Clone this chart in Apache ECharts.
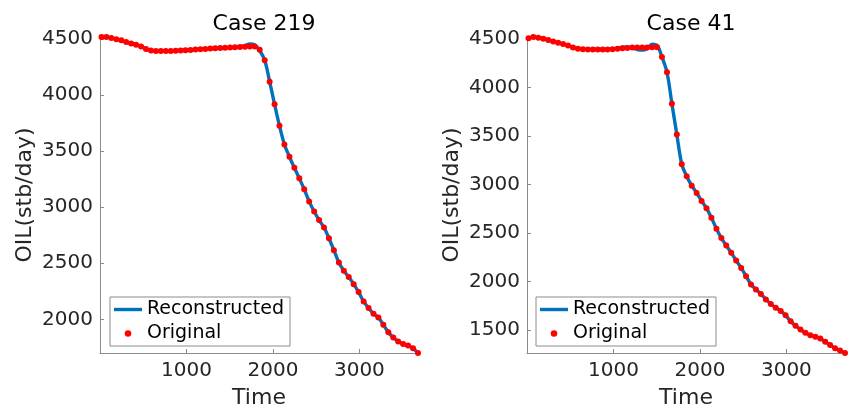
<!DOCTYPE html>
<html>
<head>
<meta charset="utf-8">
<script src="https://cdn.jsdelivr.net/npm/echarts@6/dist/echarts.min.js"></script>
<style>
html,body{margin:0;padding:0;background:#fff;}
#c{width:849px;height:414px;}
</style>
</head>
<body>
<div id="c"></div>
<script>
// Time (days) for each sample
var times = [17,74,131,189,246,303,360,417,475,532,589,646,703,761,818,875,932,989,1047,1104,1161,1218,1275,1333,1390,1447,1504,1561,1619,1676,1733,1790,1847,1905,1962,2019,2076,2133,2191,2248,2305,2362,2419,2477,2534,2591,2648,2705,2763,2820,2877,2934,2991,3049,3106,3163,3220,3277,3335,3392,3449,3506,3563,3621,3678];

// Case 219
var case219Original = [4518,4518,4509,4497,4488,4473,4461,4449,4434,4411,4397,4394,4393,4393,4394,4396,4398,4400,4403,4406,4409,4412,4415,4418,4420,4422,4424,4426,4428,4430,4433,4434,4404,4310,4120,3918,3726,3560,3450,3352,3258,3160,3052,2962,2886,2820,2723,2617,2507,2433,2377,2314,2243,2160,2101,2050,2016,1952,1884,1838,1803,1780,1766,1742,1700];
var case219Recon = [4518,4518,4509,4497,4488,4473,4461,4449,4434,4411,4397,4394,4393,4393,4394,4396,4398,4400,4403,4406,4409,4412,4415,4418,4420,4422,4424,4426,4431,4442,4456,4448,4398,4310,4120,3918,3726,3560,3450,3352,3258,3160,3052,2962,2886,2820,2723,2617,2507,2433,2377,2314,2243,2160,2101,2050,2016,1952,1884,1838,1803,1780,1766,1742,1700];

// Case 41
var case41Original = [4505,4518,4510,4500,4486,4472,4459,4445,4431,4411,4398,4391,4390,4389,4389,4389,4390,4391,4396,4401,4406,4409,4410,4411,4411,4413,4412,4312,4155,3831,3514,3208,3085,2987,2913,2831,2756,2658,2545,2448,2371,2298,2216,2141,2056,1970,1919,1872,1817,1770,1732,1698,1653,1592,1545,1507,1473,1449,1433,1415,1381,1347,1313,1290,1265];
var case41Recon = [4505,4518,4510,4500,4486,4472,4459,4445,4431,4411,4398,4391,4390,4389,4389,4389,4390,4392,4400,4414,4416,4404,4389,4384,4398,4443,4432,4312,4155,3831,3514,3208,3085,2987,2913,2831,2756,2658,2545,2448,2371,2298,2216,2141,2056,1970,1919,1872,1817,1770,1732,1698,1653,1592,1545,1507,1473,1449,1433,1415,1381,1347,1313,1290,1265];

var titles = ['Case 219', 'Case 41'];
var xTicks = [1000, 2000, 3000];
var yTicks219 = [2000, 2500, 3000, 3500, 4000, 4500];
var yTicks41 = [1500, 2000, 2500, 3000, 3500, 4000, 4500];
var seriesNames = ['Reconstructed', 'Original'];

function pairs(xs, ys){ return xs.map(function(x,i){ return [x, ys[i]]; }); }

var FONT = 'DejaVu Sans';
var AXC = '#262626';
var LINEC = '#8c8c8c';

function xAxis(idx){
  return {
    type:'value', gridIndex: idx, min: 0, max: times[times.length-1],
    name:'Time', nameLocation:'middle', nameGap: 34,
    nameTextStyle:{fontFamily:FONT, fontSize:22, color:AXC},
    axisLine:{lineStyle:{color:LINEC, width:1}},
    axisTick:{inside:true, length:4, customValues: xTicks, lineStyle:{color:LINEC}},
    axisLabel:{customValues: xTicks, margin:8, fontFamily:FONT, fontSize:20, color:AXC, formatter:function(v){return String(v);}},
    splitLine:{show:false}
  };
}
function yAxis(idx, vals, ticks){
  var all = vals[0].concat(vals[1]);
  return {
    type:'value', gridIndex: idx,
    min: Math.min.apply(null, all), max: Math.max.apply(null, all),
    name:'OIL(stb/day)', nameLocation:'middle', nameGap: 64,
    nameTextStyle:{fontFamily:FONT, fontSize:22, color:AXC},
    axisLine:{show:true, lineStyle:{color:LINEC, width:1}},
    axisTick:{show:true, inside:true, length:4, customValues: ticks, lineStyle:{color:LINEC}},
    axisLabel:{customValues: ticks, margin:7, fontFamily:FONT, fontSize:20, color:AXC, formatter:function(v){return String(v);}},
    splitLine:{show:false}
  };
}

function legend(left){
  return {
    left: left, top: 297, orient:'vertical',
    backgroundColor:'#fff', borderColor:'#8c8c8c', borderWidth:1,
    padding:[3,6,3,4], itemGap:5, itemWidth:28, itemHeight:6.5,
    symbolKeepAspect:true,
    textStyle:{fontFamily:FONT, fontSize:19, color:'#000'},
    data:[
      {name:seriesNames[0], icon:'path://M0,0H28V3.4H0Z', itemStyle:{color:'#0072BD'}},
      {name:seriesNames[1], icon:'circle', itemStyle:{color:'#FF0000'}}
    ],
    selectedMode:false
  };
}

var option = {
  animation:false,
  backgroundColor:'#fff',
  title: [
    {text: titles[0], left: 259, top: 8, textAlign:'center', textStyle:{fontFamily:FONT, fontSize:22, fontWeight:'normal', color:'#000'}},
    {text: titles[1], left: 686, top: 8, textAlign:'center', textStyle:{fontFamily:FONT, fontSize:22, fontWeight:'normal', color:'#000'}}
  ],
  grid: [
    {left:100, right:431, top:37, bottom:60},
    {left:527, right:4, top:37, bottom:60}
  ],
  xAxis: [xAxis(0), xAxis(1)],
  yAxis: [yAxis(0, [case219Original, case219Recon], yTicks219), yAxis(1, [case41Original, case41Recon], yTicks41)],
  legend: [legend(110), legend(536)],
  series: [
    {name:seriesNames[0], type:'line', xAxisIndex:0, yAxisIndex:0, data: pairs(times, case219Recon), showSymbol:false, symbol:'none', smooth:0.35, lineStyle:{color:'#0072BD', width:3.4}, itemStyle:{color:'#0072BD'}, z:2},
    {name:seriesNames[1], type:'scatter', xAxisIndex:0, yAxisIndex:0, data: pairs(times, case219Original), symbol:'circle', symbolSize:6, itemStyle:{color:'#FF0000', opacity:1}, z:3},
    {name:seriesNames[0], type:'line', xAxisIndex:1, yAxisIndex:1, data: pairs(times, case41Recon), showSymbol:false, symbol:'none', smooth:0.35, lineStyle:{color:'#0072BD', width:3.4}, itemStyle:{color:'#0072BD'}, z:2},
    {name:seriesNames[1], type:'scatter', xAxisIndex:1, yAxisIndex:1, data: pairs(times, case41Original), symbol:'circle', symbolSize:6, itemStyle:{color:'#FF0000', opacity:1}, z:3}
  ]
};
var chart = echarts.init(document.getElementById('c'), null, {renderer:'canvas'});
chart.setOption(option);
</script>
</body>
</html>
